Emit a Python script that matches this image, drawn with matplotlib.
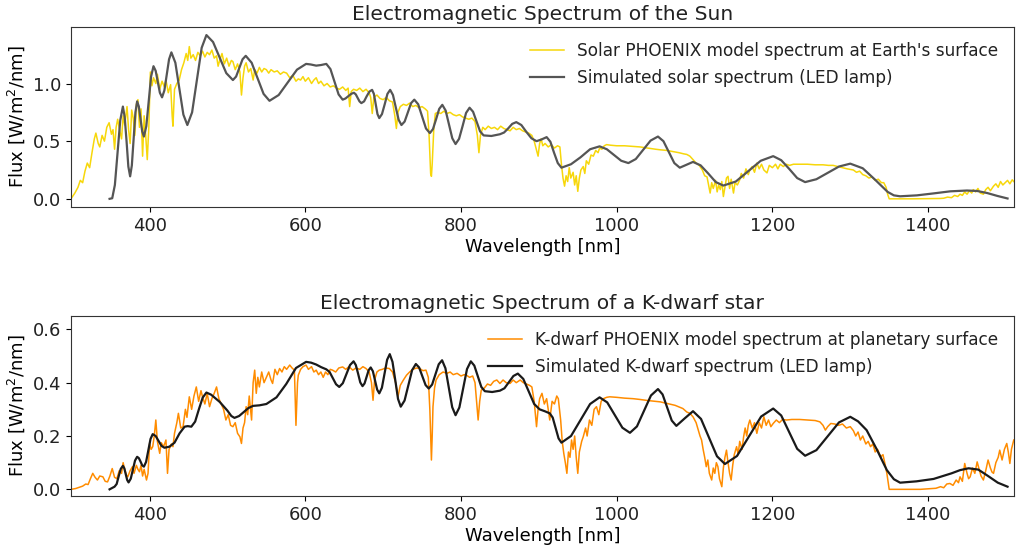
import numpy as np
import matplotlib
matplotlib.use("Agg")
import matplotlib.pyplot as plt

# solar PHOENIX spectrum at Earth's surface (wavelength nm, flux W/m2/nm)
sun = np.array([
    [299, 0.00], [304, 0.05], [308, 0.10], [311, 0.16], [314, 0.14], [317, 0.24], [320, 0.31],
    [323, 0.27], [326, 0.40], [329, 0.52], [331, 0.57], [334, 0.48], [336, 0.45], [339, 0.55],
    [342, 0.50], [345, 0.62], [348, 0.66], [351, 0.56], [353, 0.60], [355, 0.43], [357, 0.62],
    [359, 0.69], [362, 0.58], [364, 0.52], [366, 0.72], [368, 0.64], [371, 0.80], [373, 0.60],
    [375, 0.48], [377, 0.77], [379, 0.70], [381, 0.55], [383, 0.82], [385, 0.86], [387, 0.62],
    [389, 0.78], [391, 0.37], [393, 0.72], [395, 0.55], [397, 0.34], [399, 0.62], [401, 1.10],
    [403, 0.98], [405, 1.05], [408, 1.00], [410, 1.08], [413, 0.95], [416, 1.02], [419, 0.97],
    [421, 1.03], [424, 0.92], [427, 0.99], [429, 0.72], [430, 0.63], [432, 0.95], [435, 1.00],
    [438, 1.03], [441, 1.12], [444, 1.18], [447, 1.26], [449, 1.20], [451, 1.32], [453, 1.22],
    [456, 1.25], [459, 1.20], [462, 1.27], [465, 1.24], [468, 1.28], [471, 1.23], [474, 1.27],
    [477, 1.25], [480, 1.29], [483, 1.22], [486, 1.24], [488, 1.15], [490, 1.20], [493, 1.26],
    [496, 1.17], [499, 1.22], [502, 1.15], [505, 1.20], [507, 1.19], [510, 1.12], [513, 1.17],
    [516, 1.10], [518, 0.90], [520, 1.05], [522, 1.15], [524, 1.18], [527, 1.10], [530, 1.13],
    [533, 1.03], [535, 1.12], [538, 1.09], [541, 1.14], [544, 1.10], [547, 1.13], [550, 1.12],
    [553, 1.09], [556, 1.12], [560, 1.10], [564, 1.11], [568, 1.08], [572, 1.10], [576, 1.09],
    [580, 1.05], [584, 1.07], [588, 1.02], [591, 1.04], [594, 1.03], [597, 1.06], [600, 1.02],
    [604, 1.05], [608, 1.00], [611, 1.03], [614, 1.05], [617, 1.00], [620, 1.02], [624, 0.98],
    [628, 1.00], [632, 0.97], [636, 0.98], [640, 0.96], [644, 0.95], [648, 0.97], [652, 0.94],
    [655, 0.96], [657, 0.80], [659, 0.93], [662, 0.95], [666, 0.94], [670, 0.96], [674, 0.93],
    [678, 0.95], [682, 0.92], [684, 0.88], [686, 0.74], [688, 0.88], [692, 0.90], [696, 0.87],
    [700, 0.86], [704, 0.88], [708, 0.85], [712, 0.84], [715, 0.72], [717, 0.61], [719, 0.75],
    [722, 0.80], [726, 0.82], [730, 0.81], [734, 0.83], [738, 0.80], [742, 0.81], [746, 0.79],
    [750, 0.80], [754, 0.78], [757, 0.76], [759, 0.55], [761, 0.22], [762, 0.195], [763, 0.30],
    [765, 0.60], [767, 0.74], [770, 0.75], [774, 0.74], [778, 0.76], [782, 0.74], [786, 0.75],
    [790, 0.73], [794, 0.72], [798, 0.73], [802, 0.71], [806, 0.70], [810, 0.69], [814, 0.70],
    [818, 0.67], [821, 0.55], [823, 0.40], [825, 0.55], [828, 0.62], [831, 0.60], [835, 0.63],
    [839, 0.61], [843, 0.62], [847, 0.60], [851, 0.63], [855, 0.61], [859, 0.60], [863, 0.59],
    [867, 0.62], [871, 0.60], [875, 0.61], [879, 0.59], [883, 0.58], [887, 0.57], [891, 0.55],
    [894, 0.50], [897, 0.42], [899, 0.37], [901, 0.48], [903, 0.52], [905, 0.46], [908, 0.48],
    [912, 0.45], [916, 0.47], [920, 0.44], [924, 0.46], [927, 0.45], [929, 0.30], [931, 0.18],
    [933, 0.11], [935, 0.20], [937, 0.15], [939, 0.27], [941, 0.18], [944, 0.23], [946, 0.12],
    [948, 0.20], [950, 0.065], [952, 0.18], [954, 0.25], [957, 0.28], [959, 0.22], [961, 0.33],
    [964, 0.30], [967, 0.38], [970, 0.37], [973, 0.42], [976, 0.40], [978, 0.44], [981, 0.43],
    [984, 0.46], [987, 0.47], [992, 0.465], [1000, 0.46], [1010, 0.46], [1020, 0.455],
    [1030, 0.45], [1040, 0.44], [1050, 0.43], [1056, 0.425], [1064, 0.42], [1072, 0.41],
    [1080, 0.40], [1086, 0.39], [1090, 0.385], [1094, 0.37], [1098, 0.34], [1102, 0.31],
    [1106, 0.29], [1110, 0.25], [1113, 0.20], [1116, 0.19], [1118, 0.12], [1120, 0.05],
    [1122, 0.14], [1124, 0.09], [1127, 0.16], [1129, 0.06], [1131, 0.12], [1133, 0.08],
    [1135, 0.15], [1137, 0.02], [1139, 0.10], [1141, 0.18], [1143, 0.195], [1145, 0.09],
    [1147, 0.17], [1150, 0.05], [1152, 0.14], [1155, 0.12], [1158, 0.165], [1160, 0.22],
    [1163, 0.18], [1166, 0.26], [1169, 0.21], [1171, 0.25], [1174, 0.28], [1177, 0.23],
    [1180, 0.31], [1183, 0.26], [1186, 0.30], [1189, 0.25], [1193, 0.225], [1196, 0.29],
    [1200, 0.27], [1204, 0.30], [1207, 0.26], [1210, 0.30], [1214, 0.28], [1218, 0.30],
    [1222, 0.29], [1227, 0.30], [1235, 0.30], [1245, 0.30], [1255, 0.295], [1265, 0.295],
    [1272, 0.29], [1278, 0.29], [1284, 0.28], [1290, 0.27], [1296, 0.26], [1300, 0.255],
    [1304, 0.25], [1308, 0.23], [1312, 0.24], [1316, 0.21], [1320, 0.20], [1324, 0.18],
    [1328, 0.19], [1332, 0.16], [1336, 0.17], [1340, 0.14], [1343, 0.14], [1346, 0.10],
    [1348, 0.04], [1350, 0.00], [1380, 0.00], [1415, 0.003], [1420, 0.005], [1425, 0.015],
    [1430, 0.01], [1434, 0.03], [1438, 0.02], [1441, 0.04], [1444, 0.03], [1447, 0.06],
    [1450, 0.04], [1453, 0.07], [1456, 0.05], [1458, 0.08], [1461, 0.06], [1464, 0.09],
    [1467, 0.05], [1471, 0.04], [1474, 0.08], [1477, 0.10], [1480, 0.07], [1484, 0.11],
    [1487, 0.13], [1490, 0.10], [1493, 0.15], [1496, 0.12], [1499, 0.14], [1502, 0.16],
    [1505, 0.13], [1508, 0.165], [1510, 0.15],
])

# simulated solar spectrum from the LED lamp
sun_led = np.array([
    [348.6, 0.00], [352, 0.005], [355.4, 0.12], [358.9, 0.40], [362.3, 0.68], [365.7, 0.80],
    [368.0, 0.71], [370.4, 0.50], [372.7, 0.28], [375, 0.195], [377.2, 0.29], [379.5, 0.52],
    [381.8, 0.75], [384, 0.845], [386.2, 0.80], [388.4, 0.69], [390.5, 0.585], [392.7, 0.54],
    [395.8, 0.63], [398.9, 0.845], [401.9, 1.06], [405, 1.15], [407.8, 1.11], [410.5, 1.015],
    [413.2, 0.92], [416, 0.88], [419, 0.94], [422, 1.075], [425, 1.21], [428, 1.27],
    [433.1, 1.18], [438.3, 0.955], [443.4, 0.73], [448.5, 0.64], [454.6, 0.75], [460.8, 1.03],
    [466.9, 1.31], [473, 1.42], [481.5, 1.36], [490, 1.225], [498.5, 1.09], [507, 1.03],
    [511.1, 1.06], [515.3, 1.135], [519.4, 1.21], [523.5, 1.24], [531.1, 1.18], [538.8, 1.045],
    [546.4, 0.91], [554, 0.85], [565.8, 0.90], [577.5, 1.01], [589.3, 1.12], [601, 1.17],
    [607, 1.165], [614, 1.155], [620, 1.16], [627, 1.17], [632.3, 1.125], [637.5, 1.015],
    [642.8, 0.905], [648, 0.86], [651.6, 0.87], [655.3, 0.89], [658.9, 0.91], [662.5, 0.92],
    [664.9, 0.905], [667.3, 0.875], [669.6, 0.845], [672, 0.83], [675.5, 0.845], [678.9, 0.89],
    [682.4, 0.93], [685.8, 0.945], [688.1, 0.91], [690.4, 0.82], [692.7, 0.735], [695, 0.70],
    [698.5, 0.735], [702, 0.82], [705.5, 0.91], [709, 0.945], [712.6, 0.90], [716.3, 0.79],
    [719.9, 0.685], [723.5, 0.64], [727.6, 0.67], [731.8, 0.75], [735.9, 0.83], [740, 0.86],
    [745, 0.82], [750, 0.715], [755, 0.61], [760, 0.57], [764, 0.605], [768, 0.69], [772, 0.78],
    [776, 0.815], [780.3, 0.765], [784.5, 0.645], [788.8, 0.525], [793, 0.475], [797.5, 0.52],
    [802, 0.63], [806.5, 0.745], [811, 0.79], [815.5, 0.755], [820, 0.67], [824.5, 0.585],
    [829, 0.55], [839, 0.545], [850, 0.56], [855.3, 0.575], [860.5, 0.61], [865.8, 0.65],
    [871, 0.665], [877.5, 0.64], [884, 0.58], [890.5, 0.525], [897, 0.50], [903.5, 0.515],
    [910, 0.535], [914.8, 0.495], [919.5, 0.40], [924.3, 0.31], [929, 0.27], [941.3, 0.30],
    [953.5, 0.36], [965.8, 0.43], [978, 0.455], [987.3, 0.43], [996.5, 0.38], [1005.8, 0.33],
    [1015, 0.31], [1024.5, 0.345], [1034, 0.425], [1043.5, 0.505], [1053, 0.54], [1060, 0.50],
    [1067, 0.405], [1074, 0.31], [1081, 0.27], [1089.5, 0.295], [1098, 0.32], [1107.8, 0.29],
    [1117.5, 0.22], [1127.3, 0.145], [1137, 0.115], [1153, 0.15], [1169, 0.24], [1185, 0.33],
    [1201, 0.37], [1211.3, 0.335], [1221.5, 0.26], [1231.8, 0.18], [1242, 0.145],
    [1256.5, 0.17], [1271, 0.225], [1285.5, 0.28], [1300, 0.305], [1316, 0.265], [1332, 0.165],
    [1348, 0.06], [1356, 0.03], [1364, 0.022], [1385.5, 0.03], [1407, 0.047], [1428.5, 0.065],
    [1450, 0.072], [1463, 0.068], [1476, 0.05], [1489, 0.025], [1502, 0.003],
])

# K-dwarf PHOENIX spectrum at planetary surface
kdwarf = np.array([
    [299, 0.000], [305, 0.003], [310, 0.008], [314, 0.012], [318, 0.020], [321, 0.018],
    [324, 0.040], [327, 0.060], [330, 0.045], [333, 0.035], [336, 0.050], [340, 0.047],
    [343, 0.030], [346, 0.028], [349, 0.050], [352, 0.078], [355, 0.045], [358, 0.040],
    [361, 0.070], [364, 0.060], [366, 0.100], [368, 0.075], [370, 0.055], [372, 0.047],
    [375, 0.070], [378, 0.085], [380, 0.060], [383, 0.090], [385, 0.075], [387, 0.066],
    [389, 0.090], [391, 0.050], [393, 0.075], [396, 0.035], [398, 0.060], [400, 0.172],
    [402, 0.150], [404, 0.160], [406, 0.200], [408, 0.260], [410, 0.180], [413, 0.135],
    [415, 0.175], [418, 0.160], [421, 0.185], [423, 0.060], [425, 0.150], [428, 0.170],
    [430, 0.160], [432, 0.210], [435, 0.250], [437, 0.285], [440, 0.230], [443, 0.235],
    [446, 0.300], [448, 0.270], [451, 0.347], [454, 0.300], [457, 0.350], [460, 0.384],
    [463, 0.330], [466, 0.370], [468, 0.347], [471, 0.320], [474, 0.360], [477, 0.310],
    [480, 0.340], [483, 0.360], [486, 0.384], [489, 0.340], [492, 0.320], [495, 0.300],
    [498, 0.260], [501, 0.280], [504, 0.240], [507, 0.235], [510, 0.250], [513, 0.210],
    [516, 0.197], [518, 0.172], [520, 0.230], [522, 0.250], [524, 0.310], [526, 0.280],
    [528, 0.350], [531, 0.260], [533, 0.400], [535, 0.447], [537, 0.360], [539, 0.420],
    [541, 0.384], [544, 0.440], [547, 0.400], [550, 0.420], [553, 0.440], [556, 0.410],
    [558, 0.397], [561, 0.450], [564, 0.430], [567, 0.453], [570, 0.440], [573, 0.460],
    [576, 0.450], [580, 0.466], [583, 0.455], [586, 0.447], [588, 0.240], [590, 0.400],
    [591, 0.428], [594, 0.450], [597, 0.460], [601, 0.466], [604, 0.450], [608, 0.460],
    [611, 0.440], [614, 0.447], [617, 0.430], [620, 0.440], [623, 0.420], [626, 0.440],
    [629, 0.430], [632, 0.450], [635, 0.447], [639, 0.440], [643, 0.455], [648, 0.459],
    [652, 0.450], [656, 0.460], [661, 0.447], [665, 0.455], [670, 0.450], [674, 0.460],
    [678, 0.453], [682, 0.440], [685, 0.400], [687, 0.334], [689, 0.410], [692, 0.440],
    [695, 0.447], [699, 0.450], [703, 0.455], [708, 0.453], [712, 0.440], [716, 0.400],
    [719, 0.347], [722, 0.390], [726, 0.410], [730, 0.428], [734, 0.440], [738, 0.450],
    [743, 0.455], [747, 0.453], [751, 0.445], [755, 0.447], [758, 0.420], [760, 0.297],
    [762, 0.110], [763, 0.200], [764, 0.310], [766, 0.380], [768, 0.410], [772, 0.430],
    [777, 0.440], [782, 0.435], [786, 0.440], [790, 0.430], [795, 0.435], [800, 0.425],
    [804, 0.430], [807, 0.428], [811, 0.420], [815, 0.425], [818, 0.400], [822, 0.260],
    [824, 0.330], [826, 0.372], [830, 0.380], [834, 0.395], [838, 0.390], [842, 0.405],
    [846, 0.410], [850, 0.397], [854, 0.410], [858, 0.400], [863, 0.397], [867, 0.410],
    [871, 0.400], [876, 0.410], [880, 0.400], [884, 0.395], [888, 0.390], [891, 0.384],
    [894, 0.330], [897, 0.235], [899, 0.300], [901, 0.340], [904, 0.360], [907, 0.320],
    [910, 0.340], [912, 0.300], [914, 0.260], [917, 0.330], [920, 0.320], [923, 0.350],
    [925, 0.340], [928, 0.260], [930, 0.180], [932, 0.135], [934, 0.100], [936, 0.060],
    [938, 0.140], [940, 0.120], [942, 0.185], [944, 0.150], [946, 0.200], [948, 0.120],
    [950, 0.060], [952, 0.140], [955, 0.180], [957, 0.197], [960, 0.230], [962, 0.200],
    [965, 0.260], [968, 0.240], [971, 0.300], [974, 0.310], [977, 0.280], [980, 0.330],
    [983, 0.340], [987, 0.345], [991, 0.347], [1000, 0.345], [1010, 0.342], [1021, 0.340],
    [1030, 0.337], [1040, 0.333], [1050, 0.330], [1056, 0.328], [1065, 0.322], [1075, 0.315],
    [1085, 0.303], [1090, 0.290], [1094, 0.285], [1098, 0.272], [1102, 0.250], [1105, 0.220],
    [1107, 0.200], [1109, 0.185], [1111, 0.150], [1113, 0.120], [1115, 0.085], [1117, 0.110],
    [1119, 0.060], [1122, 0.035], [1124, 0.080], [1126, 0.060], [1128, 0.100], [1130, 0.085],
    [1132, 0.040], [1135, 0.010], [1137, 0.080], [1139, 0.120], [1141, 0.147], [1143, 0.100],
    [1145, 0.060], [1147, 0.035], [1149, 0.090], [1151, 0.130], [1154, 0.160], [1156, 0.130],
    [1158, 0.180], [1161, 0.150], [1163, 0.197], [1165, 0.230], [1167, 0.200], [1169, 0.240],
    [1171, 0.260], [1174, 0.230], [1177, 0.250], [1180, 0.210], [1183, 0.250], [1186, 0.230],
    [1189, 0.272], [1192, 0.240], [1195, 0.260], [1198, 0.235], [1201, 0.247], [1205, 0.260],
    [1209, 0.250], [1213, 0.262], [1218, 0.260], [1225, 0.262], [1235, 0.262], [1245, 0.260],
    [1255, 0.258], [1261, 0.253], [1265, 0.240], [1268, 0.222], [1271, 0.235], [1275, 0.247],
    [1280, 0.245], [1285, 0.240], [1290, 0.245], [1295, 0.230], [1300, 0.235], [1304, 0.220],
    [1307, 0.200], [1310, 0.215], [1313, 0.185], [1316, 0.200], [1320, 0.170], [1323, 0.180],
    [1326, 0.160], [1329, 0.170], [1332, 0.140], [1335, 0.150], [1339, 0.122], [1342, 0.130],
    [1345, 0.090], [1347, 0.060], [1350, 0.000], [1390, 0.000], [1410, 0.004], [1416, 0.010],
    [1420, 0.006], [1424, 0.020], [1428, 0.022], [1432, 0.015], [1436, 0.035], [1439, 0.025],
    [1441, 0.047], [1444, 0.030], [1447, 0.097], [1450, 0.060], [1452, 0.040], [1454, 0.047],
    [1457, 0.080], [1460, 0.060], [1463, 0.103], [1466, 0.070], [1468, 0.050], [1471, 0.035],
    [1474, 0.070], [1477, 0.110], [1480, 0.080], [1482, 0.065], [1484, 0.060], [1487, 0.100],
    [1490, 0.120], [1492, 0.147], [1495, 0.110], [1498, 0.150], [1501, 0.172], [1503, 0.140],
    [1505, 0.097], [1507, 0.150], [1510, 0.185],
])

# simulated K-dwarf spectrum from the LED lamp
kdwarf_led = np.array([
    [348.6, 0.000], [355, 0.010], [357.7, 0.020], [360.4, 0.050], [363, 0.077], [365.7, 0.088],
    [367.5, 0.079], [369.4, 0.057], [371.2, 0.035], [373, 0.026], [375.8, 0.040], [378.5, 0.074],
    [381.3, 0.108], [384, 0.122], [386.2, 0.117], [388.4, 0.104], [390.5, 0.090], [392.7, 0.085],
    [395.5, 0.103], [398.4, 0.146], [401.2, 0.189], [404, 0.207], [407.8, 0.200], [411.5, 0.182],
    [415.3, 0.163], [419, 0.156], [425.5, 0.160], [432, 0.175], [438.5, 0.210], [445, 0.235],
    [449, 0.237], [453.6, 0.235], [458.5, 0.254], [463.3, 0.300], [468.2, 0.344], [473, 0.363],
    [479, 0.355], [490, 0.328], [500, 0.295], [505, 0.275], [509, 0.268], [515, 0.275],
    [521, 0.290], [527, 0.305], [533, 0.313], [541, 0.315], [550, 0.320], [563, 0.345],
    [575.5, 0.395], [588, 0.455], [601, 0.478], [607.5, 0.475], [614, 0.468], [620.5, 0.458],
    [627, 0.450], [631.2, 0.440], [635.3, 0.417], [639.5, 0.394], [643.6, 0.384], [648.2, 0.398],
    [652.8, 0.432], [657.4, 0.466], [662, 0.480], [664.9, 0.466], [667.8, 0.434], [670.6, 0.401],
    [673.5, 0.387], [676.1, 0.397], [678.8, 0.422], [681.4, 0.447], [684, 0.457], [686.8, 0.443],
    [689.5, 0.409], [692.3, 0.374], [695, 0.360], [698.4, 0.381], [701.8, 0.434], [705.1, 0.486],
    [708.5, 0.507], [712, 0.478], [715.6, 0.409], [719.1, 0.339], [722.6, 0.310], [727.5, 0.333],
    [732.3, 0.390], [737.2, 0.447], [742, 0.470], [746.2, 0.457], [750.3, 0.424], [754.5, 0.391],
    [758.6, 0.378], [762.9, 0.393], [767.2, 0.431], [771.4, 0.469], [775.7, 0.484], [780, 0.454],
    [784.4, 0.381], [788.7, 0.308], [793, 0.278], [797.9, 0.307], [802.8, 0.379], [807.7, 0.451],
    [812.6, 0.480], [817.1, 0.464], [821.6, 0.424], [826.1, 0.384], [830.6, 0.368], [840, 0.365],
    [850, 0.370], [855.8, 0.379], [861.5, 0.402], [867.3, 0.425], [873, 0.434], [880, 0.414],
    [887, 0.367], [894, 0.320], [901, 0.300], [907.5, 0.293], [914, 0.285], [917.8, 0.269],
    [921.5, 0.230], [925.3, 0.191], [929, 0.175], [941.3, 0.200], [953.5, 0.260], [965.8, 0.320],
    [978, 0.345], [987.8, 0.326], [997.5, 0.279], [1007.3, 0.231], [1017, 0.212], [1026, 0.236],
    [1035, 0.294], [1044, 0.352], [1053, 0.376], [1058.9, 0.356], [1064.8, 0.307],
    [1070.7, 0.258], [1076.6, 0.238], [1087.3, 0.266], [1098, 0.293], [1108.3, 0.264],
    [1118.5, 0.194], [1128.8, 0.124], [1139, 0.095], [1154.5, 0.125], [1170, 0.199],
    [1185.5, 0.273], [1201, 0.303], [1211.3, 0.277], [1221.5, 0.215], [1231.8, 0.152],
    [1242, 0.126], [1256.5, 0.147], [1271, 0.199], [1285.5, 0.251], [1300, 0.272], [1310, 0.255],
    [1321, 0.222], [1334, 0.150], [1347, 0.072], [1356, 0.038], [1364, 0.025], [1385, 0.030],
    [1407, 0.039], [1430, 0.060], [1441, 0.072], [1452, 0.079], [1464.5, 0.074], [1477, 0.050],
    [1489.5, 0.025], [1502, 0.010],
])

plt.rcParams['font.size'] = 13
plt.rcParams['axes.edgecolor'] = '#333333'
plt.rcParams['text.color'] = '#222222'
plt.rcParams['xtick.labelcolor'] = '#222222'
plt.rcParams['ytick.labelcolor'] = '#222222'

fig = plt.figure(figsize=(10.24, 5.51), dpi=100)
ax1 = fig.add_axes([0.0693, 0.6243, 0.9207, 0.3267])
ax2 = fig.add_axes([0.0693, 0.0998, 0.9207, 0.3267])

ax1.plot(sun[:, 0], sun[:, 1], color='#f7d70a', lw=1.1,
         label="Solar PHOENIX model spectrum at Earth's surface")
ax1.plot(sun_led[:, 0], sun_led[:, 1], color='#555555', lw=1.6,
         label='Simulated solar spectrum (LED lamp)')
ax1.set_title('Electromagnetic Spectrum of the Sun', fontsize=14.6, pad=5)
ax1.set_xlim(299, 1510)
ax1.set_ylim(-0.071, 1.49)
ax1.set_yticks([0.0, 0.5, 1.0])
ax1.set_xlabel('Wavelength [nm]', labelpad=2)
ax1.set_ylabel('Flux [W/m$^2$/nm]')
ax1.legend(loc='upper right', frameon=False, fontsize=12.2)

ax2.plot(kdwarf[:, 0], kdwarf[:, 1], color='#ff8c00', lw=1.1,
         label='K-dwarf PHOENIX model spectrum at planetary surface')
ax2.plot(kdwarf_led[:, 0], kdwarf_led[:, 1], color='#1a1a1a', lw=1.6,
         label='Simulated K-dwarf spectrum (LED lamp)')
ax2.set_title('Electromagnetic Spectrum of a K-dwarf star', fontsize=14.6, pad=5)
ax2.set_xlim(299, 1510)
ax2.set_ylim(-0.025, 0.65)
ax2.set_yticks([0.0, 0.2, 0.4, 0.6])
ax2.set_xlabel('Wavelength [nm]', labelpad=2)
ax2.set_ylabel('Flux [W/m$^2$/nm]')
ax2.legend(loc='upper right', frameon=False, fontsize=12.2)

fig.savefig('out.png', dpi=100)
